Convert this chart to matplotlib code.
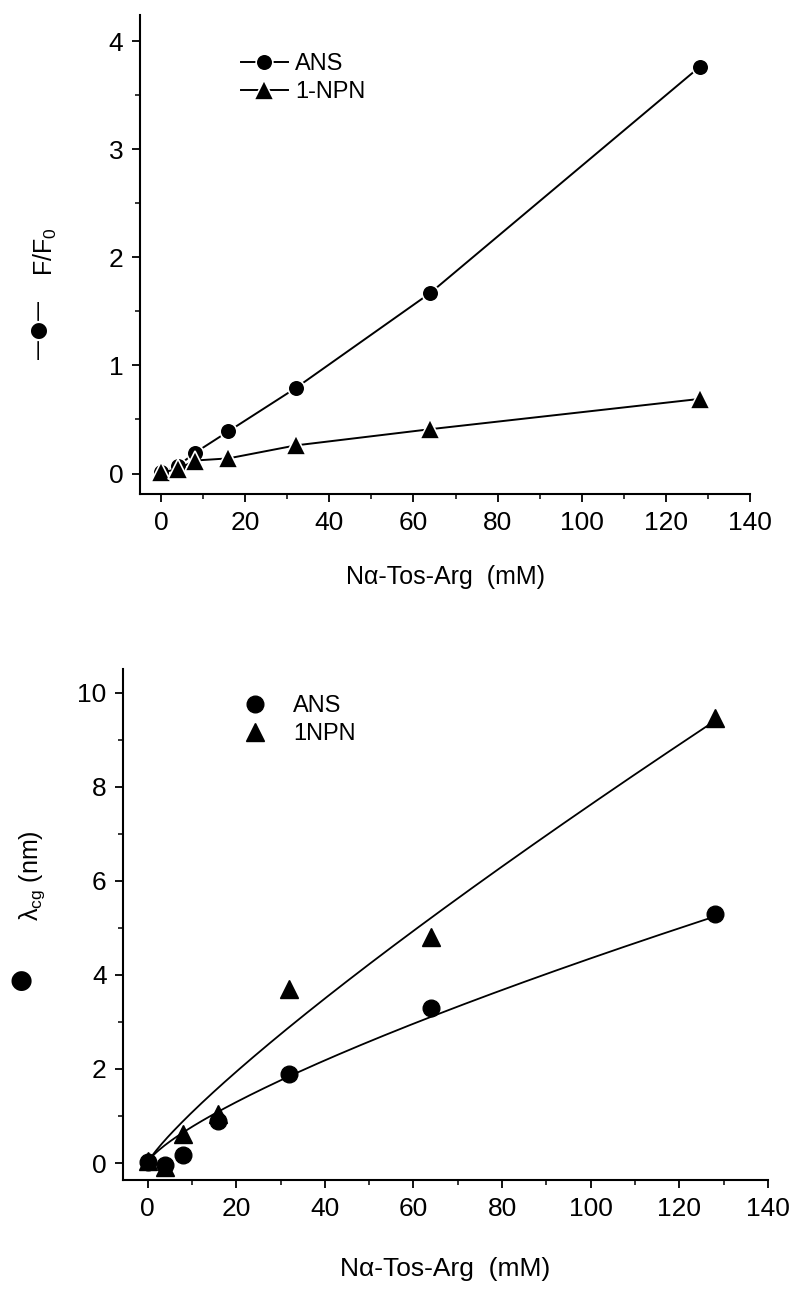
import matplotlib
matplotlib.use('Agg')
import matplotlib.pyplot as plt
import matplotlib.ticker as ticker
import numpy as np

plt.rcParams['font.family'] = ['Liberation Sans', 'DejaVu Sans']
plt.rcParams['mathtext.default'] = 'regular'

# concentrations (mM)
conc = [0, 4, 8, 16, 32, 64, 128]

# top panel: F/F0
ff0_ans = [0.01, 0.07, 0.19, 0.39, 0.79, 1.67, 3.76]
ff0_npn = [0.01, 0.04, 0.12, 0.14, 0.26, 0.41, 0.69]

# bottom panel: lambda_cg shift (nm)
lcg_ans = [0.02, -0.04, 0.18, 0.90, 1.90, 3.30, 5.30]
lcg_npn = [0.05, -0.08, 0.62, 1.05, 3.70, 4.80, 9.45]

# fitted power curves y = a * x^b
fit_ans = (0.1357, 0.753)
fit_npn = (0.152, 0.85)

x_ticks = np.arange(0, 141, 20)
xlabel = 'N\u03b1-Tos-Arg  (mM)'

fig = plt.figure(figsize=(8, 12.92), dpi=100)


def style_axes(ax):
    ax.spines['top'].set_visible(False)
    ax.spines['right'].set_visible(False)
    for s in ('left', 'bottom'):
        ax.spines[s].set_linewidth(1.5)
    ax.tick_params(which='major', direction='out', length=6, width=1.3, labelsize=19, pad=6)
    ax.tick_params(which='minor', direction='out', length=3.5, width=1.1)
    ax.set_xticks(x_ticks)
    ax.xaxis.set_minor_locator(ticker.MultipleLocator(10))


# ---- top panel ----
ax1 = fig.add_axes([0.175, 0.6176, 0.7625, 0.3707])
style_axes(ax1)
ax1.plot(conc, ff0_ans, marker='o', color='black', lw=1.4, ms=12,
         mec='white', mew=1.2, label='ANS')
ax1.plot(conc, ff0_npn, marker='^', color='black', lw=1.4, ms=14,
         mec='white', mew=1.2, label='1-NPN')
ax1.set_xlim(-5, 140)
ax1.set_ylim(-0.19, 4.24)
ax1.set_yticks([0, 1, 2, 3, 4])
ax1.yaxis.set_minor_locator(ticker.MultipleLocator(0.5))
ax1.set_xlabel(xlabel, fontsize=18, labelpad=22)
ax1.legend(loc='upper left', bbox_to_anchor=(0.13, 0.965), frameon=False,
           fontsize=17, handlelength=2.0, handletextpad=0.3, labelspacing=0.25,
           markerscale=1.0)
fig.text(0.057, 0.805, 'F/F$_0$', rotation=90, fontsize=18, ha='center', va='center')
fig.text(0.048, 0.745, '\u2014\u25cf\u2014', rotation=90, fontsize=15, ha='center',
         va='center', family=['DejaVu Sans'])

# ---- bottom panel ----
ax2 = fig.add_axes([0.154, 0.0867, 0.806, 0.3955])
style_axes(ax2)
xf = np.linspace(0, 128, 200)
ax2.plot(xf, fit_ans[0] * xf ** fit_ans[1], color='black', lw=1.3)
ax2.plot(xf, fit_npn[0] * xf ** fit_npn[1], color='black', lw=1.3)
ax2.plot(conc, lcg_ans, 'o', color='black', ms=12, label='ANS')
ax2.plot(conc, lcg_npn, '^', color='black', ms=13, label='1NPN')
ax2.set_xlim(-5.5, 140)
ax2.set_ylim(-0.36, 10.5)
ax2.set_yticks([0, 2, 4, 6, 8, 10])
ax2.yaxis.set_minor_locator(ticker.MultipleLocator(1))
ax2.set_xlabel(xlabel, fontsize=19, labelpad=26)
ax2.legend(loc='upper left', bbox_to_anchor=(0.15, 0.99), frameon=False,
           fontsize=17, handlelength=1.2, handletextpad=1.0, labelspacing=0.25,
           markerscale=1.0)
fig.text(0.04, 0.322, '\u03bb$_{cg}$ (nm)', rotation=90, fontsize=18, ha='center', va='center')
fig.text(0.026, 0.241, '\u25cf', fontsize=19, ha='center', va='center',
         family=['DejaVu Sans'])

fig.savefig('out.png', dpi=100)
